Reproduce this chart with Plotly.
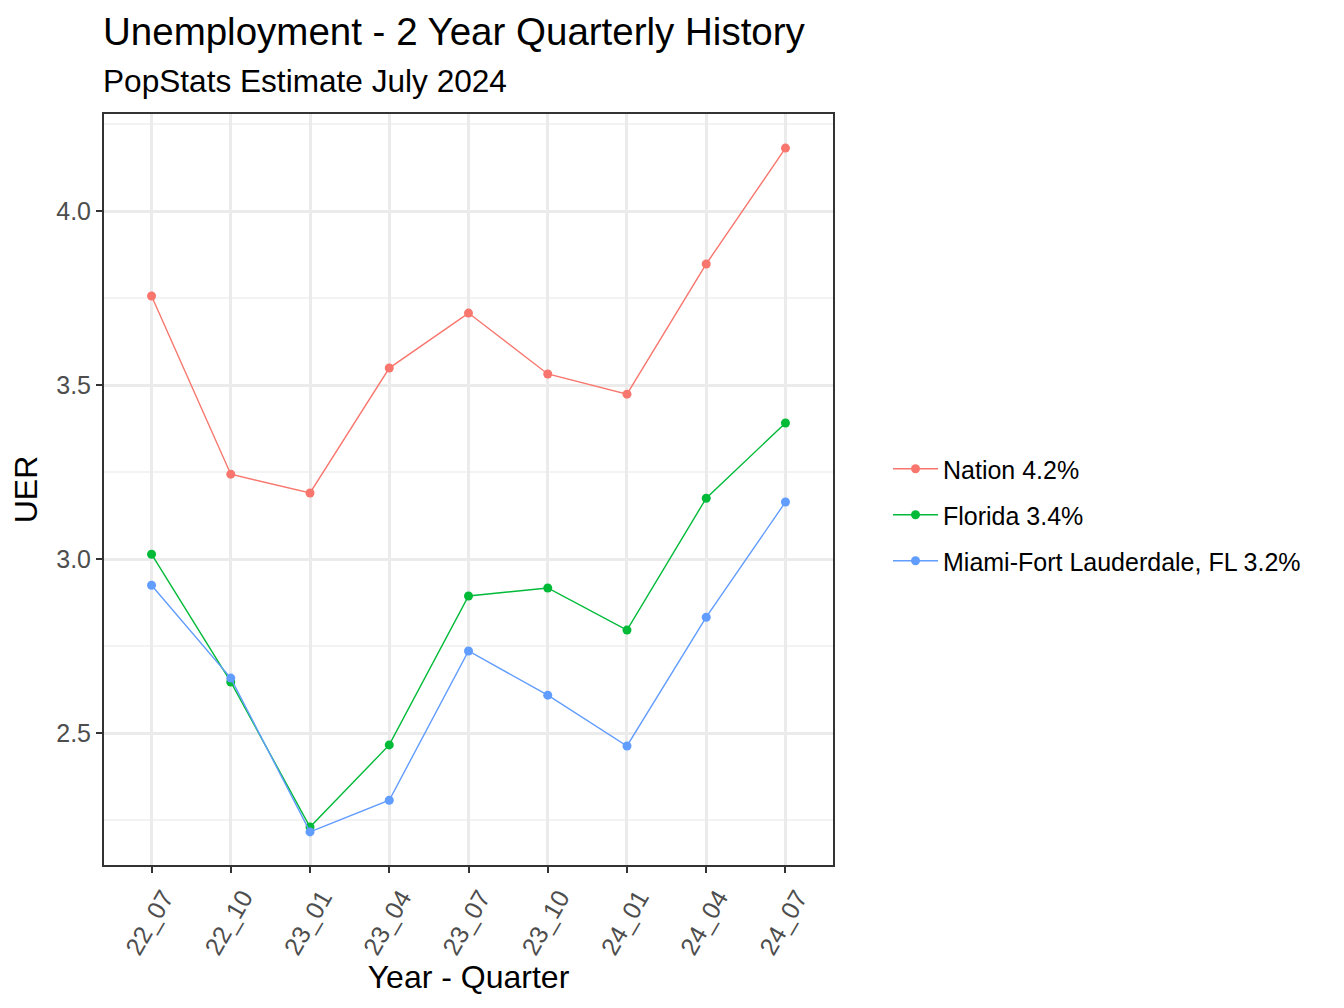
import plotly.graph_objects as go

# quarters on the x axis
quarters = ["22_07", "22_10", "23_01", "23_04", "23_07", "23_10", "24_01", "24_04", "24_07"]

# unemployment rate per series
nation = [3.756, 3.244, 3.190, 3.549, 3.707, 3.532, 3.474, 3.848, 4.181]
florida = [3.014, 2.647, 2.230, 2.466, 2.894, 2.917, 2.796, 3.175, 3.391]
miami = [2.925, 2.658, 2.216, 2.307, 2.736, 2.609, 2.463, 2.833, 3.164]

series_names = ["Nation 4.2%", "Florida 3.4%", "Miami-Fort Lauderdale, FL 3.2%"]
colors = ["#F8766D", "#00BA38", "#619CFF"]

FONT = "Liberation Sans, Arial, sans-serif"

# page body has an 8px margin, so the figure is shrunk by that much
W, H = 1336, 1000
L, R, T, B = 96, 511, 106, 143
plot_w = W - L - R
plot_h = H - T - B


def py(fig_y):
    # figure pixel row -> paper y
    return (H - B - fig_y) / plot_h


def px(fig_x):
    return (fig_x - L) / plot_w


fig = go.Figure()
legend_ids = ["legend", "legend2", "legend3"]
for vals, name, col, lg in zip([nation, florida, miami], series_names, colors, legend_ids):
    fig.add_trace(go.Scatter(
        x=list(range(len(quarters))), y=vals, name=name, mode="lines+markers",
        line=dict(color=col, width=1.4),
        marker=dict(color=col, size=9),
        legend=lg,
    ))

legend_style = dict(
    xanchor="left", yanchor="middle", bgcolor="rgba(0,0,0,0)",
    font=dict(family=FONT, size=25, color="#000000"),
    itemwidth=45,
)
# one legend per series so the rows are spaced like the original
for lg, ypx in zip(legend_ids, [461, 507, 553]):
    fig.update_layout(**{lg: dict(x=px(880), y=py(ypx), **legend_style)})

fig.update_layout(
    width=W, height=H,
    margin=dict(l=L, r=R, t=T, b=B),
    plot_bgcolor="white", paper_bgcolor="white",
    font=dict(family=FONT),
    showlegend=True,
    annotations=[
        dict(text="Unemployment - 2 Year Quarterly History", xref="paper", yref="paper",
             x=0, y=py(24), xanchor="left", yanchor="middle", xshift=-3,
             showarrow=False, font=dict(family=FONT, size=38.5, color="#000000")),
        dict(text="PopStats Estimate July 2024", xref="paper", yref="paper",
             x=0, y=py(73), xanchor="left", yanchor="middle", xshift=-3,
             showarrow=False, font=dict(family=FONT, size=31.6, color="#000000")),
    ],
)

fig.update_xaxes(
    range=[-0.6, 8.6], tickmode="array", tickvals=list(range(len(quarters))), ticktext=quarters,
    tickangle=-60, tickfont=dict(size=25, color="#4D4D4D"), ticklabelshift=12,
    ticks="outside", ticklen=6, tickcolor="#333333", tickwidth=2,
    showgrid=True, gridcolor="#EBEBEB", gridwidth=3, zeroline=False,
    showline=True, linecolor="#333333", linewidth=2, mirror=True,
    title=dict(text="Year - Quarter", font=dict(size=32, color="#000000"), standoff=2),
)
fig.update_yaxes(
    range=[2.121, 4.279], tickmode="array", tickvals=[2.5, 3.0, 3.5, 4.0],
    ticktext=["2.5", "3.0", "3.5", "4.0"],
    tickfont=dict(size=25, color="#4D4D4D"),
    ticks="outside", ticklen=6, tickcolor="#333333", tickwidth=2,
    showgrid=True, gridcolor="#EBEBEB", gridwidth=3, zeroline=False,
    minor=dict(tickvals=[2.25, 2.75, 3.25, 3.75, 4.25], showgrid=True, gridcolor="#F3F3F3", gridwidth=1.5),
    showline=True, linecolor="#333333", linewidth=2, mirror=True,
    title=dict(text="UER", font=dict(size=32, color="#000000"), standoff=10),
)

fig.write_html("out.html")
